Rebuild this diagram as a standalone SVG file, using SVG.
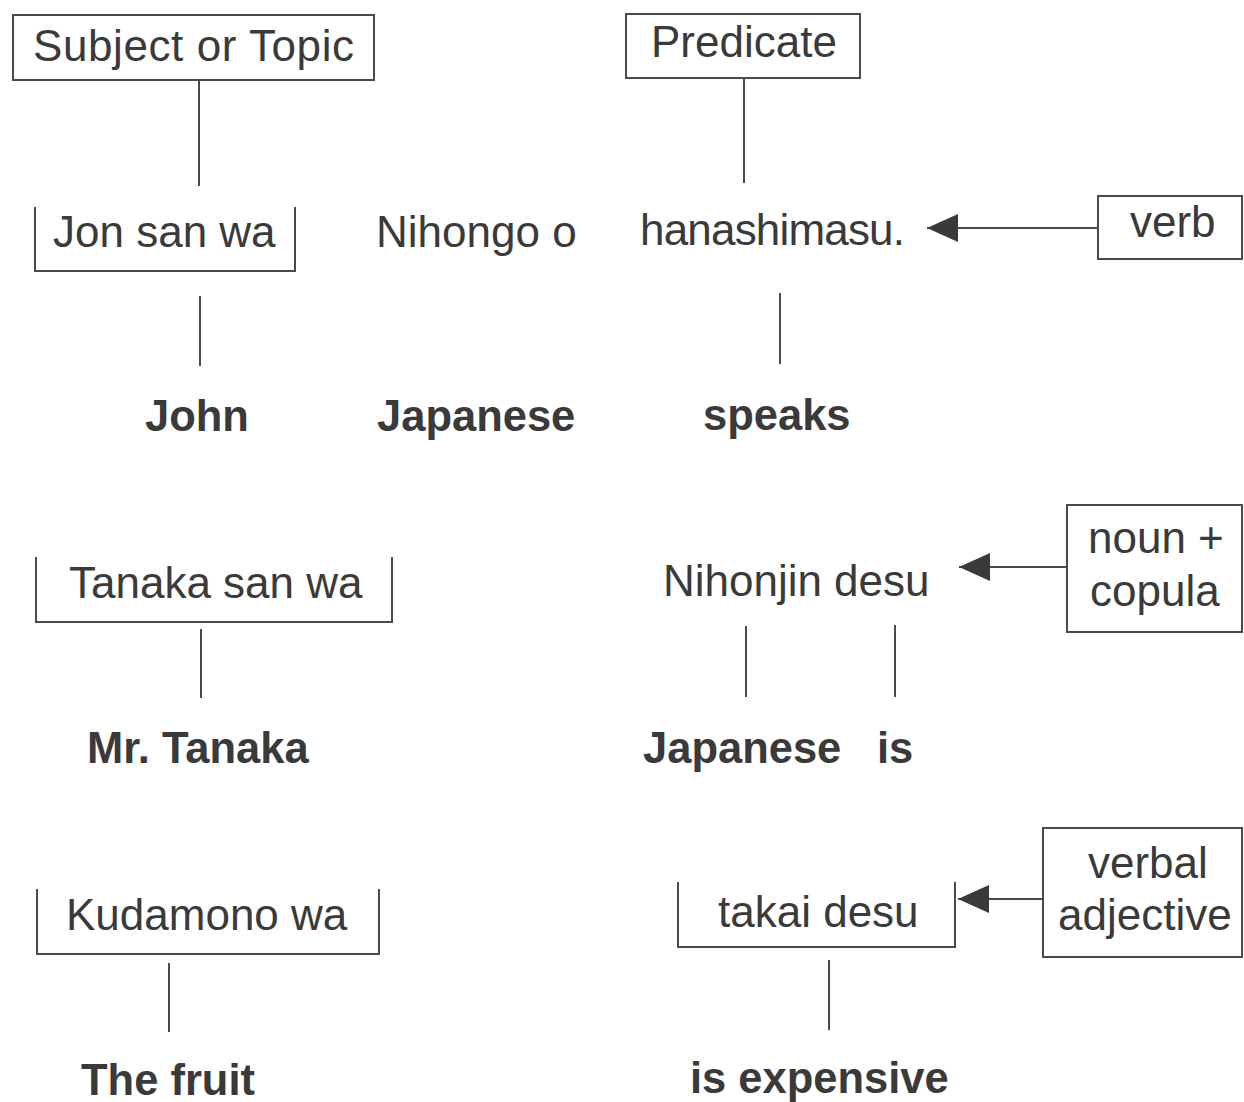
<svg xmlns="http://www.w3.org/2000/svg" width="1244" height="1102" viewBox="0 0 1244 1102">
  <style>
    .t { font-family: "Liberation Sans", Arial, Helvetica, sans-serif; font-size: 44px; fill: #3a3a3a; }
    .b { font-family: "Liberation Sans", Arial, Helvetica, sans-serif; font-size: 43.5px; font-weight: bold; fill: #3a3a3a; }
    .box { fill: none; stroke: #4a4a4a; stroke-width: 2; }
    .ln { fill: none; stroke: #4a4a4a; stroke-width: 2; }
  </style>
  <defs>
    <marker id="arrow" markerUnits="userSpaceOnUse" markerWidth="32" markerHeight="28" refX="31" refY="14" orient="auto">
      <path d="M0,0 L31,14 L0,28 Z" fill="#3a3a3a"/>
    </marker>
  </defs>
  <rect width="1244" height="1102" fill="#ffffff"/>

  <!-- heading boxes -->
  <g id="subject-topic">
    <rect class="box" x="13" y="15" width="361" height="65"/>
    <text class="t" x="33" y="61" textLength="321">Subject or Topic</text>
  </g>
  <g id="predicate">
    <rect class="box" x="626" y="14" width="234" height="64"/>
    <text class="t" x="651" y="57">Predicate</text>
  </g>

  <!-- sentence 1 -->
  <g id="jon-san-wa">
    <path class="box" d="M35,207 V271 H295 V207"/>
    <text class="t" x="53" y="247">Jon san wa</text>
  </g>
  <g id="nihongo-o">
    <text class="t" x="376" y="247">Nihongo o</text>
  </g>
  <g id="hanashimasu">
    <text class="t" x="640" y="245" textLength="265">hanashimasu.</text>
  </g>
  <g id="verb">
    <rect class="box" x="1098" y="196" width="144" height="63"/>
    <text class="t" x="1130" y="237">verb</text>
  </g>
  <g id="john"><text class="b" x="145" y="431">John</text></g>
  <g id="japanese-1"><text class="b" x="377" y="431">Japanese</text></g>
  <g id="speaks"><text class="b" x="703" y="430">speaks</text></g>

  <!-- sentence 2 -->
  <g id="tanaka-san-wa">
    <path class="box" d="M36,557 V622 H392 V557"/>
    <text class="t" x="69" y="598">Tanaka san wa</text>
  </g>
  <g id="nihonjin-desu">
    <text class="t" x="663" y="596">Nihonjin</text>
    <text class="t" x="834" y="596">desu</text>
  </g>
  <g id="noun-copula">
    <rect class="box" x="1067" y="505" width="175" height="127"/>
    <text class="t" x="1088" y="553">noun +</text>
    <text class="t" x="1090" y="606">copula</text>
  </g>
  <g id="mr-tanaka"><text class="b" x="87" y="763">Mr. Tanaka</text></g>
  <g id="japanese-2"><text class="b" x="643" y="763">Japanese</text></g>
  <g id="is"><text class="b" x="877" y="763">is</text></g>

  <!-- sentence 3 -->
  <g id="kudamono-wa">
    <path class="box" d="M37,889 V954 H379 V889"/>
    <text class="t" x="66" y="930">Kudamono wa</text>
  </g>
  <g id="takai-desu">
    <path class="box" d="M678,882 V947 H955 V882"/>
    <text class="t" x="718" y="927">takai desu</text>
  </g>
  <g id="verbal-adjective">
    <rect class="box" x="1043" y="828" width="199" height="129"/>
    <text class="t" x="1088" y="878">verbal</text>
    <text class="t" x="1058" y="930">adjective</text>
  </g>
  <g id="the-fruit"><text class="b" x="81" y="1095">The fruit</text></g>
  <g id="is-expensive"><text class="b" x="690" y="1093">is expensive</text></g>

  <!-- connectors -->
  <g id="connectors">
    <line class="ln" x1="199" y1="80" x2="199" y2="186"/>
    <line class="ln" x1="744" y1="78" x2="744" y2="183"/>
    <line class="ln" x1="200" y1="296" x2="200" y2="366"/>
    <line class="ln" x1="780" y1="293" x2="780" y2="364"/>
    <line class="ln" x1="1098" y1="228" x2="927" y2="228" marker-end="url(#arrow)"/>

    <line class="ln" x1="201" y1="629" x2="201" y2="698"/>
    <line class="ln" x1="746" y1="626" x2="746" y2="697"/>
    <line class="ln" x1="895" y1="625" x2="895" y2="697"/>
    <line class="ln" x1="1067" y1="567" x2="959" y2="567" marker-end="url(#arrow)"/>

    <line class="ln" x1="169" y1="963" x2="169" y2="1032"/>
    <line class="ln" x1="829" y1="960" x2="829" y2="1030"/>
    <line class="ln" x1="1043" y1="899" x2="958" y2="899" marker-end="url(#arrow)"/>
  </g>
</svg>
